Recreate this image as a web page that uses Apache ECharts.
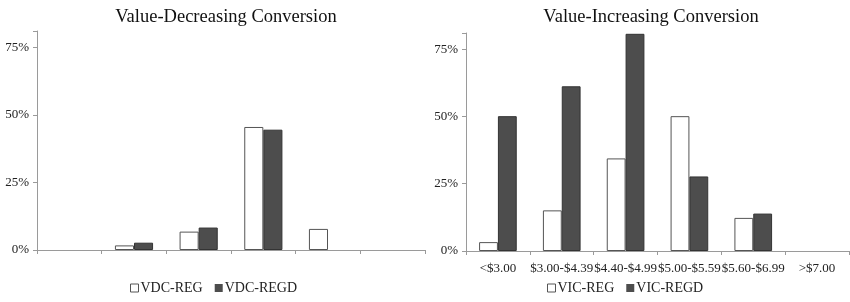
<!DOCTYPE html>
<html>
<head>
<meta charset="utf-8">
<script src="https://cdn.jsdelivr.net/npm/echarts@6/dist/echarts.min.js"></script>
<style>
  html, body { margin: 0; padding: 0; background: #fff; }
  #main { width: 850px; height: 302px; }
</style>
</head>
<body>
<div id="main"></div>
<script>
var categories = ['<$3.00', '$3.00-$4.39', '$4.40-$4.99', '$5.00-$5.59', '$5.60-$6.99', '>$7.00'];
var vdcReg = [0, 0.017, 0.068, 0.455, 0.078, 0];
var vdcRegd = [0, 0.027, 0.083, 0.445, 0, 0];
var vicReg = [0.033, 0.151, 0.344, 0.501, 0.123, 0];
var vicRegd = [0.501, 0.612, 0.807, 0.277, 0.139, 0];
var yTicks = [0, 0.25, 0.5, 0.75];

var chartDom = document.getElementById('main');
var myChart = echarts.init(chartDom);
var font = '"Liberation Serif", "Times New Roman", serif';
var axisColor = '#9a9a9a';

function yAxisFor(idx) {
  return {
    type: 'value',
    gridIndex: idx,
    min: 0,
    max: 0.81,
    interval: 0.25,
    splitLine: { show: false },
    axisLine: { show: true, lineStyle: { color: axisColor } },
    axisTick: { show: true, length: 4, lineStyle: { color: axisColor } },
    axisLabel: {
      color: '#222',
      fontFamily: font,
      fontSize: 13,
      margin: 8,
      formatter: function (v) {
        var hit = yTicks.some(function (t) { return Math.abs(t - v) < 1e-6; });
        return hit ? Math.round(v * 100) + '%' : '';
      }
    }
  };
}

function xAxisFor(idx, showLabels) {
  return {
    type: 'category',
    gridIndex: idx,
    data: categories,
    axisLine: { lineStyle: { color: axisColor } },
    axisTick: { show: true, length: 4, lineStyle: { color: axisColor } },
    axisLabel: {
      show: showLabels,
      interval: 0,
      color: '#222',
      fontFamily: font,
      fontSize: 13,
      margin: 11
    }
  };
}

var whiteBar = { color: '#ffffff', borderColor: '#555', borderWidth: 1 };
var darkBar = { color: '#4d4d4d', borderColor: '#333', borderWidth: 1 };

// zero-height bars get no outline, as in the original
function barData(values) {
  return values.map(function (v) {
    return v === 0 ? { value: 0, itemStyle: { borderWidth: 0 } } : v;
  });
}

function barSeries(name, values, axisIdx, style) {
  return {
    name: name, type: 'bar',
    xAxisIndex: axisIdx, yAxisIndex: axisIdx,
    data: barData(values),
    barGap: '0%', barCategoryGap: '41%',
    itemStyle: style
  };
}

var legendText = { fontFamily: font, fontSize: 14, color: '#222', padding: [0, 0, 0, -3] };

var option = {
  animation: false,
  backgroundColor: '#fff',
  title: [
    {
      text: 'Value-Decreasing Conversion',
      left: 221, top: 3, textAlign: 'center',
      textStyle: { fontFamily: font, fontSize: 18.5, fontWeight: 'normal', color: '#111' }
    },
    {
      text: 'Value-Increasing Conversion',
      left: 646, top: 3, textAlign: 'center',
      textStyle: { fontFamily: font, fontSize: 18.5, fontWeight: 'normal', color: '#111' }
    }
  ],
  legend: [
    {
      data: [
        { name: 'VDC-REG', itemStyle: { borderColor: '#555', borderWidth: 1 } },
        { name: 'VDC-REGD', itemStyle: { borderWidth: 0 } }
      ],
      left: 125, top: 276,
      itemWidth: 8, itemHeight: 8, itemGap: 12,
      icon: 'rect',
      textStyle: legendText
    },
    {
      data: [
        { name: 'VIC-REG', itemStyle: { borderColor: '#555', borderWidth: 1 } },
        { name: 'VIC-REGD', itemStyle: { borderWidth: 0 } }
      ],
      left: 542, top: 276,
      itemWidth: 8, itemHeight: 8, itemGap: 12,
      icon: 'rect',
      textStyle: legendText
    }
  ],
  grid: [
    { left: 37, right: 425, top: 31, bottom: 52 },
    { left: 466, right: 1, top: 33, bottom: 51 }
  ],
  xAxis: [xAxisFor(0, false), xAxisFor(1, true)],
  yAxis: [yAxisFor(0), yAxisFor(1)],
  series: [
    barSeries('VDC-REG', vdcReg, 0, whiteBar),
    barSeries('VDC-REGD', vdcRegd, 0, darkBar),
    barSeries('VIC-REG', vicReg, 1, whiteBar),
    barSeries('VIC-REGD', vicRegd, 1, darkBar)
  ]
};

option && myChart.setOption(option);
</script>
</body>
</html>
